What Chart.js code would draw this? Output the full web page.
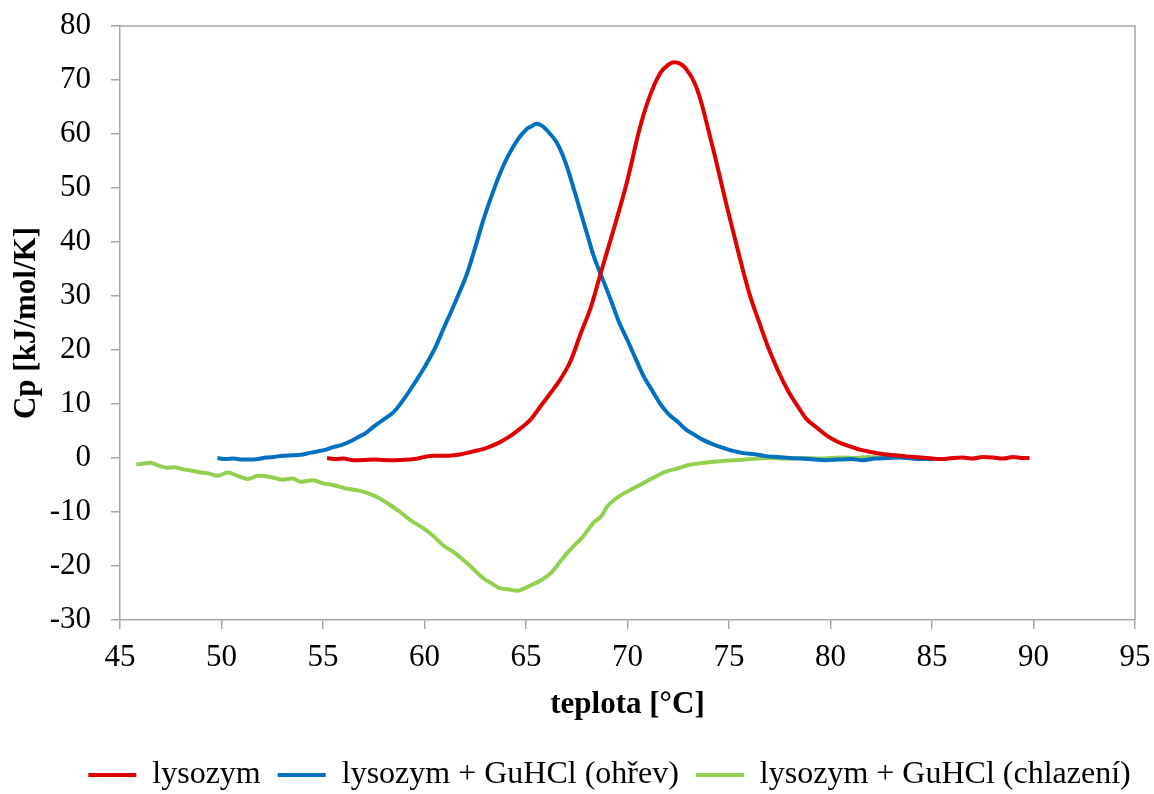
<!DOCTYPE html>
<html>
<head>
<meta charset="utf-8">
<script src="https://cdn.jsdelivr.net/npm/chart.js@4/dist/chart.umd.min.js"></script>
<style>
  html, body { margin: 0; padding: 0; background: #fff; }
  #wrap { width: 1154px; height: 794px; }
</style>
</head>
<body>
<div id="wrap"><canvas id="myChart" width="1154" height="794"></canvas></div>
<script>
// lysozym
const lysX = [55.2, 55.6, 56.0, 56.5, 57.5, 58.5, 59.5, 60.0, 60.5, 61.0, 61.8, 62.5, 63.0, 63.7, 64.2, 64.7, 65.2, 65.7, 66.2, 66.7, 67.2, 67.7, 68.2, 68.7, 69.2, 69.6, 70.0, 70.6, 71.0, 71.6, 72.0, 72.3, 72.6, 72.9, 73.3, 73.6, 74.0, 74.3, 74.9, 75.5, 76.0, 76.5, 76.9, 77.4, 77.9, 78.4, 78.8, 79.3, 79.8, 80.2, 80.6, 81.0, 81.5, 82.0, 82.6, 83.2, 83.7, 84.5, 85.0, 85.5, 86.0, 86.5, 87.0, 87.5, 88.0, 88.5, 89.0, 89.5, 89.8]
const lysY = [0, -0.2, -0.1, -0.4, -0.3, -0.4, -0.2, 0.2, 0.4, 0.4, 0.7, 1.3, 1.8, 2.9, 4.0, 5.4, 7.0, 9.5, 12.0, 14.6, 18.0, 23.1, 28.0, 34.5, 40.8, 46.0, 51.5, 61.0, 66.0, 71.2, 72.8, 73.3, 73.0, 72.0, 69.5, 66.3, 60.5, 56.0, 46.5, 37.5, 30.5, 25.0, 20.8, 16.3, 12.5, 9.5, 7.3, 5.7, 4.2, 3.3, 2.6, 2.1, 1.5, 1.1, 0.7, 0.5, 0.3, 0.1, -0.1, -0.2, 0, 0.1, -0.1, 0.2, 0.1, -0.1, 0.2, 0, 0]

// lysozym + GuHCl (ohřev)
const heatX = [49.8, 50.2, 50.6, 51.0, 51.4, 51.8, 52.2, 52.6, 53.0, 53.5, 53.9, 54.3, 54.7, 55.1, 55.5, 55.9, 56.3, 56.7, 57.1, 57.5, 57.9, 58.5, 59.0, 59.5, 60.0, 60.5, 61.0, 61.3, 61.7, 62.1, 62.5, 62.9, 63.3, 63.7, 64.1, 64.6, 65.0, 65.3, 65.5, 65.8, 66.1, 66.5, 66.9, 67.2, 67.6, 68.0, 68.3, 68.7, 69.0, 69.3, 69.6, 70.0, 70.4, 70.8, 71.2, 71.6, 72.0, 72.5, 72.9, 73.3, 73.7, 74.1, 74.6, 75.1, 75.7, 76.3, 76.9, 77.4, 78.0, 78.6, 79.2, 79.8, 80.4, 81.0, 81.6, 82.2, 82.8, 83.4, 84.0, 84.5, 85.1]
const heatY = [0, -0.2, -0.1, -0.3, -0.3, -0.2, 0.1, 0.2, 0.4, 0.5, 0.6, 0.9, 1.2, 1.5, 2.0, 2.4, 3.0, 3.8, 4.6, 5.8, 6.9, 8.6, 11.0, 13.8, 16.8, 20.2, 24.5, 27.0, 30.5, 34.2, 39.0, 44.1, 48.5, 52.5, 55.8, 59.0, 60.8, 61.5, 61.9, 61.5, 60.4, 58.5, 55.2, 51.8, 46.7, 41.6, 37.8, 33.8, 31.0, 28.0, 25.0, 21.8, 18.4, 15.1, 12.6, 10.1, 8.2, 6.6, 5.2, 4.3, 3.4, 2.7, 2.0, 1.4, 0.9, 0.7, 0.3, 0.2, 0, -0.1, -0.3, -0.4, -0.3, -0.2, -0.4, -0.1, 0, 0.1, -0.1, -0.2, -0.2]

// lysozym + GuHCl (chlazení)
const coolX = [45.8, 46.2, 46.5, 46.9, 47.3, 47.7, 48.1, 48.5, 49.0, 49.4, 49.8, 50.3, 50.8, 51.3, 51.8, 52.4, 53.0, 53.5, 53.9, 54.5, 55.0, 55.5, 56.2, 56.7, 57.2, 57.8, 58.3, 58.8, 59.3, 59.9, 60.4, 60.9, 61.5, 62.1, 62.5, 62.9, 63.3, 63.7, 64.1, 64.6, 65.0, 65.4, 65.8, 66.2, 66.6, 67.0, 67.4, 67.8, 68.3, 68.7, 69.0, 69.4, 69.8, 70.3, 70.7, 71.1, 71.6, 72.0, 72.5, 73.0, 73.5, 74.0, 74.6, 75.2, 75.8, 76.4, 77.0, 77.6, 78.2, 78.8, 79.4, 80.0, 80.6, 81.2, 81.8, 82.4, 83.0, 83.7]
const coolY = [-1.2, -1.0, -0.9, -1.4, -1.8, -1.7, -2.1, -2.3, -2.7, -2.9, -3.3, -2.7, -3.3, -3.9, -3.3, -3.5, -4.0, -3.8, -4.4, -4.1, -4.7, -5.0, -5.7, -6.0, -6.5, -7.5, -8.7, -10.0, -11.5, -12.9, -14.3, -16.1, -17.6, -19.5, -20.9, -22.3, -23.2, -24.1, -24.3, -24.6, -24.0, -23.3, -22.5, -21.4, -19.6, -17.7, -16.1, -14.6, -12.1, -10.8, -9.0, -7.6, -6.6, -5.6, -4.8, -4.0, -3.0, -2.4, -1.9, -1.3, -1.0, -0.8, -0.6, -0.4, -0.3, -0.1, 0, -0.1, -0.1, 0, -0.1, 0, 0.1, 0, 0.2, 0.1, 0.2, 0.4]

const seriesNames = ['lysozym', 'lysozym + GuHCl (ohřev)', 'lysozym + GuHCl (chlazení)']
const seriesColors = ['#E00000', '#0070C0', '#92D050']

const axisGray = '#A6A6A6'
const font = 'Liberation Serif, Times New Roman, serif'

function toPoints(xs, ys) {
  let pts = []
  for (let i = 0; i < xs.length; i++) {
    pts.push({ x: xs[i], y: ys[i] })
  }
  return pts
}

function makeSet(name, color, xs, ys) {
  return {
    label: name,
    data: toPoints(xs, ys),
    borderColor: color,
    backgroundColor: color,
    borderWidth: 4,
    pointRadius: 0,
    fill: false,
    cubicInterpolationMode: 'monotone'
  }
}

// rámeček kolem plochy grafu (horní a pravá strana)
const framePlugin = {
  id: 'frame',
  afterLayout(chart) {
    // legenda je v originále trochu posunutá doprava
    chart.legend.left += 42
    chart.legend.right += 42
  },
  afterDraw(chart) {
    const a = chart.chartArea
    const c = chart.ctx
    c.save()
    c.strokeStyle = axisGray
    c.lineWidth = 1.5
    c.beginPath()
    c.moveTo(a.left, a.top)
    c.lineTo(a.right, a.top)
    c.lineTo(a.right, a.bottom)
    c.stroke()
    c.restore()
  }
}

const ctx = document.getElementById('myChart')

new Chart(ctx, {
  type: 'line',
  data: {
    datasets: [
      makeSet(seriesNames[0], seriesColors[0], lysX, lysY),
      makeSet(seriesNames[1], seriesColors[1], heatX, heatY),
      makeSet(seriesNames[2], seriesColors[2], coolX, coolY)
    ]
  },
  options: {
    responsive: false,
    animation: false,
    layout: { padding: { top: 26, right: 19, left: 0, bottom: -7 } },
    plugins: {
      tooltip: { enabled: false },
      legend: {
        position: 'bottom',
        labels: {
          usePointStyle: true,
          pointStyle: 'line',
          pointStyleWidth: 48,
          padding: 17,
          color: '#000',
          font: { family: font, size: 32 }
        }
      }
    },
    scales: {
      x: {
        type: 'linear',
        min: 45,
        max: 95,
        afterFit(scale) {
          scale.height = 122
          scale.paddingLeft = 0
          scale.paddingRight = 0
        },
        ticks: { stepSize: 5, color: '#000', padding: 10, font: { family: font, size: 31 } },
        grid: { drawOnChartArea: false, color: axisGray, lineWidth: 1.5, tickLength: 9 },
        border: { color: axisGray, width: 1.5 },
        title: {
          display: true,
          text: 'teplota [°C]',
          color: '#000',
          padding: { top: 4, bottom: 18 },
          font: { family: font, size: 31, weight: 'bold' }
        }
      },
      y: {
        min: -30,
        max: 80,
        afterFit(scale) {
          scale.width = 120
          scale.paddingTop = 0
          scale.paddingBottom = 0
        },
        ticks: { stepSize: 10, color: '#000', padding: 20, font: { family: font, size: 31 } },
        grid: { drawOnChartArea: false, color: axisGray, lineWidth: 1.5, tickLength: 9 },
        border: { color: axisGray, width: 1.5 },
        title: {
          display: true,
          text: 'Cp [kJ/mol/K]',
          color: '#000',
          padding: { top: 8, bottom: 0 },
          font: { family: font, size: 31, weight: 'bold' }
        }
      }
    }
  },
  plugins: [framePlugin]
})
</script>
</body>
</html>
